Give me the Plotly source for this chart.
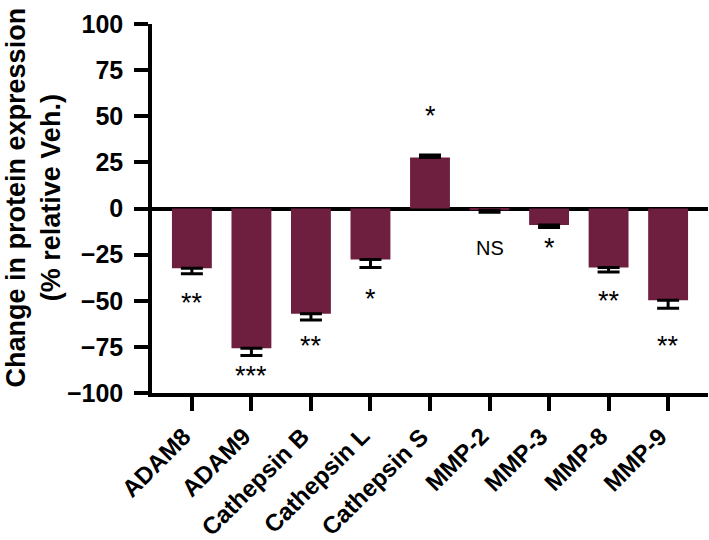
import plotly.graph_objects as go

categories = ["ADAM8", "ADAM9", "Cathepsin B", "Cathepsin L", "Cathepsin S",
              "MMP-2", "MMP-3", "MMP-8", "MMP-9"]
values = [-32.4, -75.7, -57.0, -27.6, 27.7, -1.0, -9.0, -32.0, -49.7]
errors = [3.0, 4.0, 3.5, 4.4, 1.3, 1.0, 1.3, 2.4, 4.3]
sig_labels = ["**", "***", "**", "*", "*", "NS", "*", "**", "**"]
sig_y = [-51, -91, -74.5, -49, 50, -21.6, -21.6, -50, -74.5]
y_ticks = [100, 75, 50, 25, 0, -25, -50, -75, -100]

BAR = "#6E1F40"
FONT = "Liberation Sans, Arial, sans-serif"

err_up = [e if v > 0 else 0 for v, e in zip(values, errors)]
err_down = [e if v <= 0 else 0 for v, e in zip(values, errors)]
xs = list(range(len(categories)))

fig = go.Figure()
fig.add_trace(go.Bar(
    x=xs, y=values, width=0.67,
    marker=dict(color=BAR, line=dict(width=0)),
    error_y=dict(type="data", symmetric=False, array=err_up, arrayminus=err_down,
                 color="black", thickness=3, width=11),
))

for i, (lab, yy) in enumerate(zip(sig_labels, sig_y)):
    fig.add_annotation(x=i, y=yy, xref="x", yref="y", text=lab, showarrow=False,
                       font=dict(family=FONT, size=20 if lab == "NS" else 27, color="black"))

# rotated category labels
for i, c in enumerate(categories):
    fig.add_annotation(x=i, y=0, xref="x", yref="paper", text="<b>%s</b>" % c,
                       textangle=-45, showarrow=False, xanchor="right", yanchor="top",
                       xshift=5, yshift=-28, borderpad=0,
                       font=dict(family=FONT, size=24, color="black"))

fig.add_annotation(
    x=-0.214, y=0.53, xref="paper", yref="paper",
    text="<b>Change in protein expression<br>(% relative Veh.)</b>",
    textangle=-90, showarrow=False, xanchor="center", yanchor="middle",
    font=dict(family=FONT, size=27, color="black"),
)

fig.update_layout(
    template="none",
    width=709, height=540,
    margin=dict(l=152, r=1, t=24, b=147),
    plot_bgcolor="white", paper_bgcolor="white",
    showlegend=False,
    font=dict(family=FONT, color="black"),
    xaxis=dict(
        range=[-0.67, 8.67], automargin=False,
        tickmode="array", tickvals=xs, showticklabels=False,
        showline=True, linecolor="black", linewidth=3.5,
        ticks="outside", ticklen=14, tickwidth=3.5, tickcolor="black",
        showgrid=False, zeroline=False,
    ),
    yaxis=dict(
        range=[-100, 100], automargin=False,
        tickmode="array", tickvals=y_ticks,
        ticktext=["<b>%s</b>" % ("\u2212%d" % -t if t < 0 else "%d" % t) for t in y_ticks],
        tickfont=dict(family=FONT, size=25, color="black"),
        ticklabelstandoff=6,
        showline=True, linecolor="black", linewidth=3.5,
        ticks="outside", ticklen=14, tickwidth=3.5, tickcolor="black",
        showgrid=False, zeroline=True, zerolinecolor="black", zerolinewidth=3.5,
    ),
)

fig.write_html("out.html", config={"displayModeBar": False},
               post_script="document.body.style.margin='0';document.body.style.overflow='hidden';")
